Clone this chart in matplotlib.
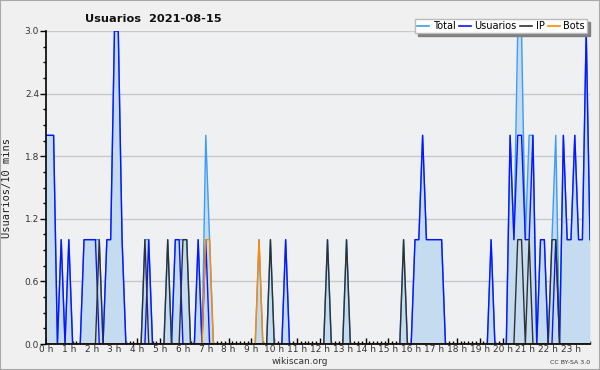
import matplotlib
matplotlib.use("Agg")
import matplotlib.pyplot as plt
from matplotlib.lines import Line2D
from matplotlib.patches import Rectangle
from matplotlib.ticker import MultipleLocator, FixedLocator

# 10-minute slots, 144 per day, grouped per hour (6 values per row)
total = [
    2, 2, 2, 0, 1, 0,   # 0 h
    1, 0, 0, 0, 1, 1,   # 1 h
    1, 1, 1, 0, 1, 1,   # 2 h
    3, 3, 1, 0, 0, 0,   # 3 h
    0, 0, 1, 1, 0, 0,   # 4 h
    0, 0, 1, 0, 1, 1,   # 5 h
    1, 1, 0, 0, 1, 0,   # 6 h
    2, 1, 0, 0, 0, 0,   # 7 h
    0, 0, 0, 0, 0, 0,   # 8 h
    0, 0, 1, 0, 0, 1,   # 9 h
    0, 0, 0, 1, 0, 0,   # 10 h
    0, 0, 0, 0, 0, 0,   # 11 h
    0, 0, 1, 0, 0, 0,   # 12 h
    0, 1, 0, 0, 0, 0,   # 13 h
    0, 0, 0, 0, 0, 0,   # 14 h
    0, 0, 0, 0, 1, 0,   # 15 h
    0, 1, 1, 2, 1, 1,   # 16 h
    1, 1, 1, 0, 0, 0,   # 17 h
    0, 0, 0, 0, 0, 0,   # 18 h
    0, 0, 0, 1, 0, 0,   # 19 h
    0, 0, 2, 1, 3, 3,   # 20 h
    1, 2, 2, 0, 1, 1,   # 21 h
    0, 1, 2, 0, 2, 1,   # 22 h
    1, 2, 1, 1, 3, 1,   # 23 h
]
usuarios = [
    2, 2, 2, 0, 1, 0,
    1, 0, 0, 0, 1, 1,
    1, 1, 0, 0, 1, 1,
    3, 3, 1, 0, 0, 0,
    0, 0, 0, 1, 0, 0,
    0, 0, 0, 0, 1, 1,
    0, 0, 0, 0, 1, 0,
    1, 0, 0, 0, 0, 0,
    0, 0, 0, 0, 0, 0,
    0, 0, 0, 0, 0, 0,
    0, 0, 0, 1, 0, 0,
    0, 0, 0, 0, 0, 0,
    0, 0, 0, 0, 0, 0,
    0, 0, 0, 0, 0, 0,
    0, 0, 0, 0, 0, 0,
    0, 0, 0, 0, 0, 0,
    0, 1, 1, 2, 1, 1,
    1, 1, 1, 0, 0, 0,
    0, 0, 0, 0, 0, 0,
    0, 0, 0, 1, 0, 0,
    0, 0, 2, 1, 2, 2,
    1, 1, 2, 0, 1, 1,
    0, 0, 1, 0, 2, 1,
    1, 2, 1, 1, 3, 1,
]
ip = [
    0, 0, 0, 0, 0, 0,
    0, 0, 0, 0, 0, 0,
    0, 0, 1, 0, 0, 0,
    0, 0, 0, 0, 0, 0,
    0, 0, 1, 0, 0, 0,
    0, 0, 1, 0, 0, 0,
    1, 1, 0, 0, 0, 0,
    0, 0, 0, 0, 0, 0,
    0, 0, 0, 0, 0, 0,
    0, 0, 0, 0, 0, 1,
    0, 0, 0, 0, 0, 0,
    0, 0, 0, 0, 0, 0,
    0, 0, 1, 0, 0, 0,
    0, 1, 0, 0, 0, 0,
    0, 0, 0, 0, 0, 0,
    0, 0, 0, 0, 1, 0,
    0, 0, 0, 0, 0, 0,
    0, 0, 0, 0, 0, 0,
    0, 0, 0, 0, 0, 0,
    0, 0, 0, 0, 0, 0,
    0, 0, 0, 0, 1, 1,
    0, 1, 0, 0, 0, 0,
    0, 1, 1, 0, 0, 0,
    0, 0, 0, 0, 0, 0,
]
bots = [
    0, 0, 0, 0, 0, 0,
    0, 0, 0, 0, 0, 0,
    0, 0, 0, 0, 0, 0,
    0, 0, 0, 0, 0, 0,
    0, 0, 0, 0, 0, 0,
    0, 0, 0, 0, 0, 0,
    0, 0, 0, 0, 0, 0,
    1, 1, 0, 0, 0, 0,
    0, 0, 0, 0, 0, 0,
    0, 0, 1, 0, 0, 0,
    0, 0, 0, 0, 0, 0,
    0, 0, 0, 0, 0, 0,
    0, 0, 0, 0, 0, 0,
    0, 0, 0, 0, 0, 0,
    0, 0, 0, 0, 0, 0,
    0, 0, 0, 0, 0, 0,
    0, 0, 0, 0, 0, 0,
    0, 0, 0, 0, 0, 0,
    0, 0, 0, 0, 0, 0,
    0, 0, 0, 0, 0, 0,
    0, 0, 0, 0, 0, 0,
    0, 0, 0, 0, 0, 0,
    0, 0, 0, 0, 0, 0,
    0, 0, 0, 0, 0, 0,
]
hour_labels = [f"{h} h" for h in range(24)]
y_ticks = [0.0, 0.6, 1.2, 1.8, 2.4, 3.0]
title = "Usuarios  2021-08-15"
series_names = ["Total", "Usuarios", "IP", "Bots"]
colors = ["#3d9cf5", "#0a14ff", "#303030", "#ff8a00"]

slots = list(range(len(total)))

fig = plt.figure(figsize=(6, 3.7), dpi=100, facecolor="#f0f0f0")
fig.patches.append(Rectangle((0, 0), 1, 1, transform=fig.transFigure,
                             fill=False, edgecolor="#a8a8a8", linewidth=1.5))
ax = fig.add_axes([46 / 600, 26 / 370, 544 / 600, 313 / 370])
ax.set_facecolor("#eef0f2")

ax.fill_between(slots, total, 0, color="#c5dcf0", linewidth=0, zorder=1)
ax.plot(slots, total, color=colors[0], linewidth=1.0, zorder=2)
ax.plot(slots, usuarios, color=colors[1], linewidth=1.0, zorder=3)
ax.plot(slots, ip, color=colors[2], linewidth=1.0, zorder=4)
ax.plot(slots, bots, color=colors[3], linewidth=1.0, zorder=5)

ax.set_xlim(0, len(total) - 1)
ax.set_ylim(0, 3.0)

for s in ["top", "right"]:
    ax.spines[s].set_visible(False)
for s in ["left", "bottom"]:
    ax.spines[s].set_color("black")
    ax.spines[s].set_linewidth(1.2)
    ax.spines[s].set_zorder(8)

ax.yaxis.set_major_locator(FixedLocator(y_ticks))
ax.set_yticklabels([f"{v:.1f}" for v in y_ticks])
ax.yaxis.set_minor_locator(MultipleLocator(0.15))
ax.grid(axis="y", which="major", color="#c8c8c8", linewidth=1.0, zorder=0)
ax.set_axisbelow(True)

ax.xaxis.set_major_locator(FixedLocator([h * 6 for h in range(24)]))
ax.set_xticklabels(hour_labels)
ax.xaxis.set_minor_locator(MultipleLocator(1))

ax.tick_params(axis="y", which="major", direction="out", length=4, width=1,
               labelsize=6.5, pad=1, colors="black", labelcolor="#333333")
ax.tick_params(axis="y", which="minor", direction="out", length=2.5, width=1)
ax.tick_params(axis="x", which="major", direction="in", length=4, width=1,
               labelsize=6.5, pad=1, labelcolor="#333333")
ax.tick_params(axis="x", which="minor", direction="in", length=2.5, width=1)

ax.set_ylabel("Usuarios/10 mins", family="DejaVu Sans Mono", fontsize=7.5,
              color="#222222", labelpad=4)
ax.yaxis.set_label_coords(-0.062, 0.5)

fig.text(85 / 600, 1 - 18.5 / 370, title, fontsize=8.2, fontweight="bold",
         ha="left", va="center", color="#111111")
fig.text(300 / 600, 1 - 361 / 370, "wikiscan.org", fontsize=6.5,
         ha="center", va="center", color="#333333")
fig.text(590 / 600, 1 - 362 / 370, "CC BY-SA 3.0", fontsize=4.5,
         ha="right", va="center", color="#333333")

handles = [Line2D([], [], color=c, linewidth=1.2) for c in colors]
leg = fig.legend(handles, series_names, loc="upper right", ncol=4,
                 bbox_to_anchor=(587 / 600, 1 - 19 / 370), fontsize=7,
                 frameon=True, fancybox=False, shadow={"color": "#808080", "alpha": 1},
                 framealpha=1, edgecolor="#bbbbbb", handlelength=1.25,
                 handletextpad=0.35, columnspacing=0.35, borderpad=0.2,
                 borderaxespad=0)
leg.get_frame().set_linewidth(1.0)
leg.set_zorder(10)

fig.savefig("out.png", dpi=100, facecolor=fig.get_facecolor())
